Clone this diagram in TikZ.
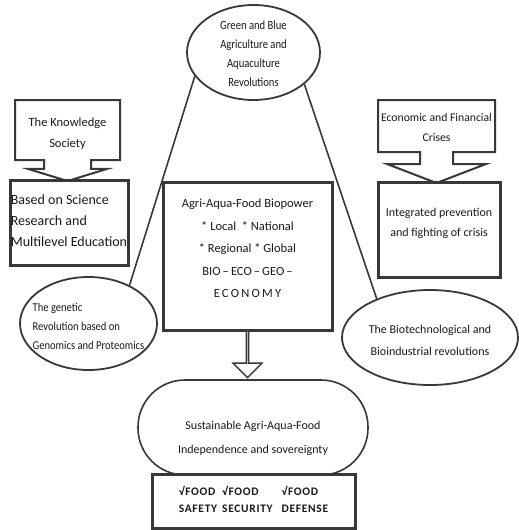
\documentclass[tikz,border=0pt]{standalone}
\usepackage{fontspec}
\usepackage{graphicx}
\setmainfont{Carlito}
\usetikzlibrary{shapes.geometric,shapes.arrows}
\definecolor{ink}{HTML}{1A1A1A}
\definecolor{edge}{HTML}{383838}
% text that does not widen its shape
\newcommand{\pinned}[2][0pt]{\raisebox{#1}[0pt][0pt]{\makebox[0pt]{#2}}}

\begin{document}
\begin{tikzpicture}[
  x=1pt, y=-1pt, font=\fontsize{12.5}{19}\selectfont,
  oval/.style={draw=edge, line width=1.8pt, ellipse, fill=white, text=ink, inner sep=0pt},
  hint/.style={draw=edge, line width=2pt, arrow box, fill=white, text=ink, align=center, inner sep=2pt},
  frame/.style={draw=edge, line width=3pt, fill=white, text=ink, inner sep=2pt},
  link/.style={draw=edge, line width=1.6pt},
]
\useasboundingbox (0,0) rectangle (519,530);
% revolutions at the top and on both sides
\node[oval, minimum width=133, minimum height=95, font=\fontsize{12.5}{19}\selectfont] (green) at (253.5,52.5) {\pinned[-5pt]{\scalebox{0.85}[1]{\begin{tabular}{@{}c@{}}Green and Blue\\Agriculture and\\Aquaculture\\Revolutions\end{tabular}}}};
\node[oval, minimum width=137, minimum height=93, font=\fontsize{12}{19}\selectfont] (gen) at (88.5,323.5) {\pinned[-6pt]{\scalebox{0.88}[1]{\begin{tabular}{@{}l@{}}The genetic\\Revolution based on\\Genomics and Proteomics\end{tabular}}}};
\node[oval, minimum width=176, minimum height=95, font=\fontsize{12}{22}\selectfont] (bio) at (430,337.5) {\pinned[-6pt]{\begin{tabular}{@{}c@{}}The Biotechnological and\\Bioindustrial revolutions\end{tabular}}};
% spokes from the top oval
\draw[link] (green.202) -- (gen.43);
\draw[link] (green.328) -- (bio.144);
% knowledge society feeding education
\node[hint, minimum width=105, minimum height=60, arrow box arrows={south:20pt}, arrow box shaft width=47pt, arrow box head extend=16pt, arrow box tip angle=146, font=\fontsize{12.5}{21}\selectfont] (know) at (67.5,130) {\pinned[-6pt]{\begin{tabular}{@{}c@{}}The Knowledge\\Society\end{tabular}}};
\node[frame, minimum width=118, minimum height=85, font=\fontsize{14}{21}\selectfont] (sci) at (69,222.5) {\pinned[-2pt]{\begin{tabular}{@{}l@{}}Based on Science\\Research and\\Multilevel Education\end{tabular}}};
% crises feeding prevention
\node[hint, minimum width=117, minimum height=52, arrow box arrows={south:30pt}, arrow box shaft width=33pt, arrow box head extend=33pt, arrow box tip angle=138, font=\fontsize{11.7}{20}\selectfont] (crisis) at (436.5,126) {\pinned[-4pt]{\begin{tabular}{@{}c@{}}Economic and Financial\\Crises\end{tabular}}};
\node[frame, minimum width=122, minimum height=95, font=\fontsize{12}{20}\selectfont] (prev) at (439,229.5) {\pinned[4pt]{\begin{tabular}{@{}c@{}}Integrated prevention\\and fighting of crisis\end{tabular}}};
% biopower core
\node[frame, minimum width=169, minimum height=148, font=\fontsize{12.5}{22.5}\selectfont] (core) at (247.5,256) {\pinned[5pt]{\begin{tabular}{@{}c@{}}Agri-Aqua-Food Biopower\\{*} Local~ {*} National\\{*} Regional {*} Global\\BIO\,--\,ECO\,--\,GEO\,--\\{\addfontfeature{LetterSpace=18}ECONOMY}\end{tabular}}};
% down to sovereignty
\node[single arrow, draw=edge, line width=1.4pt, fill=white, rotate=-90, minimum height=47, minimum width=29, single arrow head extend=8.5, inner sep=0pt] (down) at (247.5,353.5) {};
\node[draw=edge, line width=1.6pt, rounded corners=47pt, fill=white, text=ink, minimum width=230, minimum height=95, font=\fontsize{12}{24}\selectfont] (sust) at (253,427.5) {\pinned[-12pt]{\begin{tabular}{@{}c@{}}Sustainable Agri-Aqua-Food\\Independence and sovereignty\end{tabular}}};
\node[frame, minimum width=203, minimum height=54, font=\fontsize{11.5}{17}\bfseries\selectfont\addfontfeature{LetterSpace=6}] (food) at (253.5,501) {\pinned[-3pt]{\begin{tabular}{@{}l@{\hspace{5pt}}l@{\hspace{9pt}}l@{}}√FOOD & √FOOD & √FOOD\\SAFETY & SECURITY & DEFENSE\end{tabular}}};
\end{tikzpicture}
\end{document}
